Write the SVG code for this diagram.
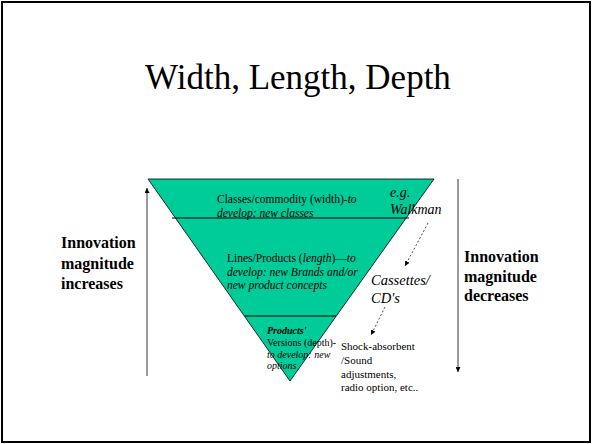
<svg xmlns="http://www.w3.org/2000/svg" width="592" height="444" viewBox="0 0 592 444">
<defs>
<style>
text{font-family:"Liberation Serif","Times New Roman",serif;fill:#000}
.it{font-style:italic}
.b{font-weight:bold}
.side{font-size:16px;font-weight:bold}
.dash{stroke:#000;stroke-width:0.7;stroke-dasharray:2,2;fill:none}
.ax{stroke:#000;stroke-width:0.8;fill:none}
</style>
<marker id="ah" viewBox="0 0 10 10" refX="10" refY="5" markerWidth="5" markerHeight="5" orient="auto" markerUnits="userSpaceOnUse">
<path d="M0,0 L10,5 L0,10 z" fill="#000"/>
</marker>
</defs>
<rect x="0" y="0" width="592" height="444" fill="#fff"/>
<rect x="2" y="2" width="588" height="440" fill="none" stroke="#000" stroke-width="2"/>
<g id="title"><text x="298" y="89" font-size="35" text-anchor="middle">Width, Length, Depth</text></g>
<g id="pyramid">
<polygon points="148,179 434,179 290,381" fill="#00CC99" stroke="#000" stroke-width="0.8"/>
<line x1="172" y1="218" x2="409" y2="218" stroke="#000" stroke-width="1.2"/>
<line x1="245" y1="316" x2="336" y2="316" stroke="#000" stroke-width="1.2"/>
</g>
<g id="classes" font-size="11.5">
<text x="217" y="203">Classes/commodity (width)-<tspan class="it">to</tspan></text>
<text x="217" y="217" class="it">develop: new classes</text>
</g>
<g id="lines" font-size="11.5">
<text x="227" y="262">Lines/Products (<tspan class="it">length</tspan>)—<tspan class="it">to</tspan></text>
<text x="227" y="276" class="it">develop: new Brands and/or</text>
<text x="227" y="289" class="it">new product concepts</text>
</g>
<g id="versions" font-size="10">
<text x="267" y="334" class="it b">Products'</text>
<text x="267" y="346">Versions (depth)-</text>
<text x="267" y="358" class="it">to develop: new</text>
<text x="267" y="369" class="it">options</text>
</g>
<g id="walkman" font-size="14">
<text x="390" y="197" class="it">e.g.</text>
<text x="390" y="214" class="it">Walkman</text>
</g>
<g id="cassettes" font-size="14.5">
<text x="371" y="285" class="it">Cassettes/</text>
<text x="371" y="303" class="it">CD's</text>
</g>
<g id="shock" font-size="11">
<text x="341" y="350">Shock-absorbent</text>
<text x="341" y="364">/Sound</text>
<text x="341" y="378">adjustments,</text>
<text x="341" y="391">radio option, etc..</text>
</g>
<g id="left-label">
<text x="61" y="248" class="side">Innovation</text>
<text x="61" y="269" class="side">magnitude</text>
<text x="61" y="289" class="side">increases</text>
</g>
<g id="right-label">
<text x="464" y="262" class="side">Innovation</text>
<text x="464" y="282" class="side">magnitude</text>
<text x="464" y="301" class="side">decreases</text>
</g>
<g id="connectors">
<line class="ax" x1="147" y1="376" x2="147" y2="188" marker-end="url(#ah)"/>
<line class="ax" x1="458" y1="179" x2="458" y2="372" marker-end="url(#ah)"/>
<line class="dash" x1="428" y1="223" x2="405" y2="266" marker-end="url(#ah)"/>
<line class="dash" x1="385" y1="307" x2="371" y2="335" marker-end="url(#ah)"/>
</g>
</svg>
